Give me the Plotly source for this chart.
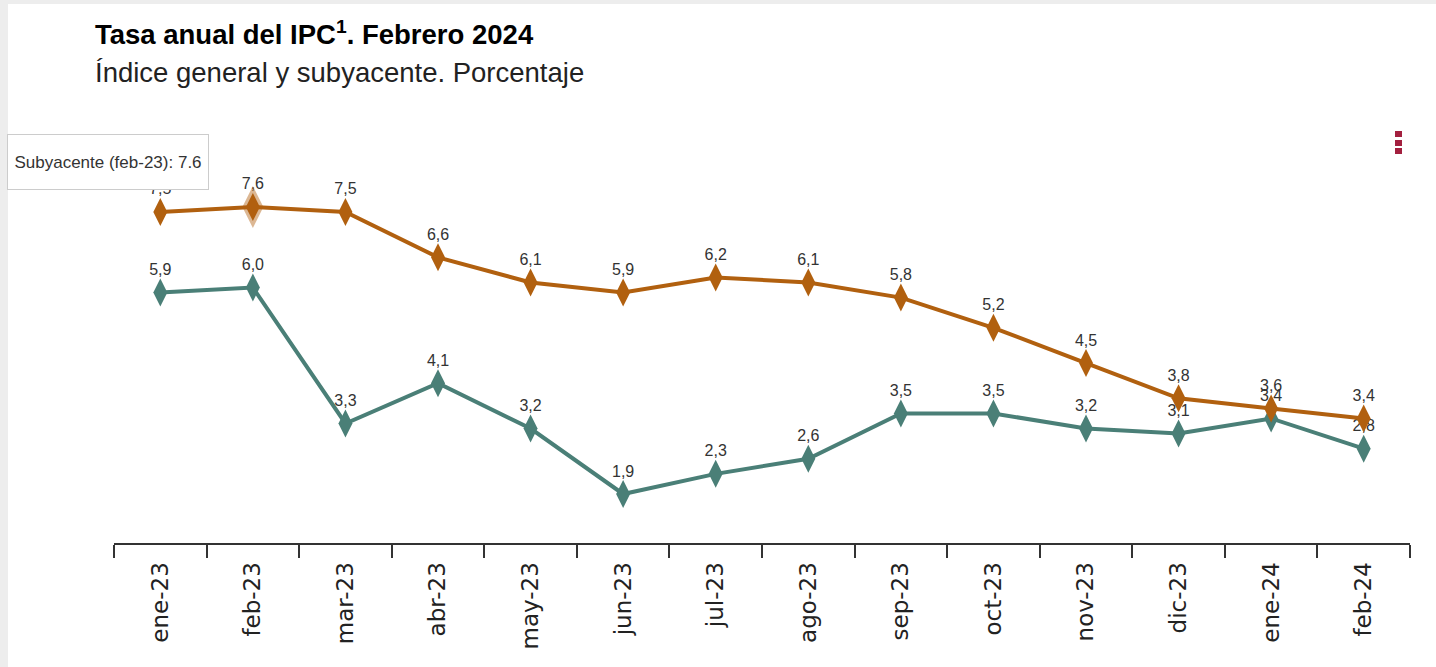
import plotly.graph_objects as go

months = ["ene-23", "feb-23", "mar-23", "abr-23", "may-23", "jun-23", "jul-23",
          "ago-23", "sep-23", "oct-23", "nov-23", "dic-23", "ene-24", "feb-24"]
general = [5.9, 6.0, 3.3, 4.1, 3.2, 1.9, 2.3, 2.6, 3.5, 3.5, 3.2, 3.1, 3.4, 2.8]
subyacente = [7.5, 7.6, 7.5, 6.6, 6.1, 5.9, 6.2, 6.1, 5.8, 5.2, 4.5, 3.8, 3.6, 3.4]
hover_idx = 1

TEAL = "#4A7F77"
ORANGE = "#B1600F"

fig = go.Figure()
fig.add_trace(go.Scatter(
    x=months, y=general, name="General", mode="lines+markers+text",
    line=dict(color=TEAL, width=4),
    marker=dict(symbol="diamond-tall", size=20, color=TEAL),
    texttemplate="%{y:.1f}", textposition="top center",
    textfont=dict(family="Arial", size=16, color="#333333"),
    cliponaxis=False,
))
fig.add_trace(go.Scatter(
    x=months, y=subyacente, name="Subyacente", mode="lines+markers+text",
    line=dict(color=ORANGE, width=4),
    marker=dict(symbol="diamond-tall", size=20, color=ORANGE),
    texttemplate="%{y:.1f}", textposition="top center",
    textfont=dict(family="Arial", size=16, color="#333333"),
    cliponaxis=False,
))
# hovered point halo
fig.add_trace(go.Scatter(
    x=[months[hover_idx]], y=[subyacente[hover_idx]], mode="markers",
    marker=dict(symbol="diamond-tall", size=30, color=ORANGE, opacity=0.45),
    hoverinfo="skip", cliponaxis=False,
))

FW, FH = 1436, 667
L, R, T, B = 114, 26, 130, 124
H = FH - T - B
W = FW - L - R

def px(x):
    return (x - L) / W

def py(y):
    return (FH - B - y) / H

shapes = []
# menu dots
for y0 in (131, 140, 148):
    shapes.append(dict(type="rect", xref="paper", yref="paper",
                       x0=px(1395), x1=px(1402), y0=py(y0 + 6), y1=py(y0),
                       fillcolor="#A3203F", line=dict(width=0)))
# frame edges
shapes.append(dict(type="rect", xref="paper", yref="paper",
                   x0=px(0), x1=px(8), y0=py(FH), y1=py(0),
                   fillcolor="#EDEDED", line=dict(width=0), layer="below"))
shapes.append(dict(type="rect", xref="paper", yref="paper",
                   x0=px(0), x1=px(FW), y0=py(4), y1=py(0),
                   fillcolor="#EDEDED", line=dict(width=0), layer="below"))

fig.update_layout(
    width=FW, height=FH,
    margin=dict(l=L, r=R, t=T, b=B),
    paper_bgcolor="white", plot_bgcolor="white",
    separators=",.",
    showlegend=False,
    title=dict(
        text="<b>Tasa anual del IPC<sup>1</sup>. Febrero 2024</b>",
        x=95 / FW, xanchor="left", xref="container",
        y=1 - 25 / FH, yanchor="top", yref="container",
        font=dict(family="Arial", size=27.5, color="#000000"),
    ),
    annotations=[
        dict(text="Índice general y subyacente. Porcentaje", xref="paper", yref="paper",
             x=px(93), y=py(72), xanchor="left", yanchor="middle", showarrow=False,
             font=dict(family="Arial", size=27.5, color="#222222")),
        dict(text="Subyacente (feb-23): 7.6", xref="paper", yref="paper",
             x=px(108), y=py(162), xanchor="center", yanchor="middle", showarrow=False,
             width=196, height=50,
             font=dict(family="Arial", size=17, color="#333333"),
             bgcolor="white", bordercolor="#CCCCCC", borderwidth=1, borderpad=2),
    ],
    shapes=shapes,
    xaxis=dict(
        type="category", range=[-0.5, len(months) - 0.5],
        showline=True, linecolor="#333333", linewidth=2,
        ticks="outside", tickson="boundaries", ticklen=13, tickwidth=2, tickcolor="#333333",
        tickangle=-90, tickfont=dict(family="DejaVu Sans", size=23, color="#222222"),
        ticklabelstandoff=8,
        showgrid=False, zeroline=False, fixedrange=True,
    ),
    yaxis=dict(
        range=[0.927, 9.128], visible=False, showgrid=False, zeroline=False,
    ),
)

fig.write_html("out.html", config={"displayModeBar": False},
               post_script="document.body.style.margin='0px';")
